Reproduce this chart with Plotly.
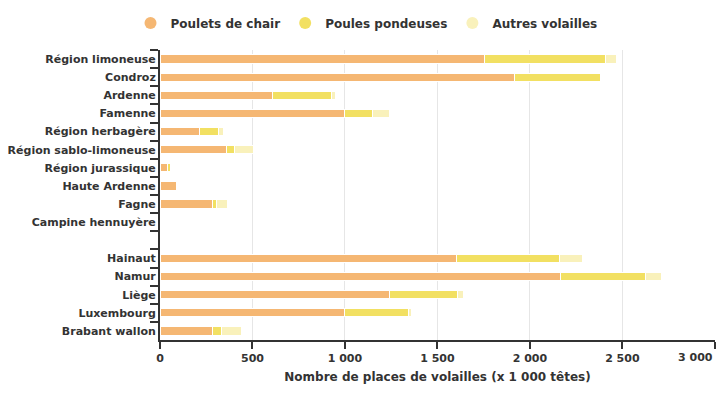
import plotly.graph_objects as go

# Regions, listed from top to bottom; the blank entry is the gap row
regions = [
    "Région limoneuse", "Condroz", "Ardenne", "Famenne", "Région herbagère",
    "Région sablo-limoneuse", "Région jurassique", "Haute Ardenne", "Fagne",
    "Campine hennuyère", " ", "Hainaut", "Namur", "Liège", "Luxembourg",
    "Brabant wallon",
]

# Places of poultry (x 1 000 heads)
poulets_chair = [1757, 1919, 607, 1000, 216, 357, 38, 87, 285, 0, None, 1605, 2168, 1243, 995, 286]
poules_pondeuses = [654, 465, 323, 151, 98, 48, 21, 5, 18, 0, None, 557, 459, 368, 346, 44]
autres_volailles = [59, 0, 20, 92, 30, 103, 0, 2, 63, 0, None, 123, 85, 31, 19, 112]

x_ticks = [0, 500, 1000, 1500, 2000, 2500, 3000]
x_ticktext = ["0", "500", "1 000", "1 500", "2 000", "2 500", ""]

series = [
    ("Poulets de chair", poulets_chair, "#F5B773"),
    ("Poules pondeuses", poules_pondeuses, "#F2E062"),
    ("Autres volailles", autres_volailles, "#F9F1BB"),
]

fig = go.Figure()

for name, values, color in series:
    fig.add_trace(go.Bar(
        y=regions,
        x=values,
        orientation="h",
        name=name,
        marker=dict(color=color, line=dict(color="white", width=1)),
        showlegend=False,
    ))

# round legend markers
for name, values, color in series:
    fig.add_trace(go.Scatter(
        x=[None], y=[None],
        mode="markers",
        name=name,
        marker=dict(color=color, size=13, symbol="circle"),
    ))

# the page body adds an 8px offset, so the figure is a bit smaller than the window
fig.update_layout(
    width=717,
    height=392,
    barmode="stack",
    bargap=0.55,
    separators=", ",
    plot_bgcolor="white",
    paper_bgcolor="white",
    font=dict(family="DejaVu Sans", color="#333333"),
    margin=dict(l=152, r=10, t=42, b=60, autoexpand=False),
    legend=dict(
        orientation="h",
        traceorder="normal",
        xref="container", yref="container",
        x=0.5, xanchor="center",
        y=0.962, yanchor="middle",
        font=dict(size=12, family="DejaVu Sans", weight="bold", color="#333333"),
        itemsizing="constant",
    ),
)

# last tick label is kept inside the chart, right-aligned on its tick
fig.add_annotation(
    x=x_ticks[-1], y=0, xref="x", yref="paper",
    text="3 000", showarrow=False,
    xanchor="right", yanchor="top", yshift=-9,
    font=dict(size=11, weight="bold", color="#333333"),
)

fig.update_xaxes(
    range=[0, 3001],
    tickvals=x_ticks,
    ticktext=x_ticktext,
    showgrid=True,
    gridcolor="#e6e6e6",
    gridwidth=1,
    zeroline=False,
    showline=True,
    linecolor="#333333",
    linewidth=2,
    ticks="outside",
    ticklen=7,
    tickwidth=2,
    tickcolor="#333333",
    tickfont=dict(size=11, weight="bold"),
    automargin=False,
    title=dict(text="Nombre de places de volailles (x 1 000 têtes)",
               font=dict(size=12, weight="bold"), standoff=8),
)

fig.update_yaxes(
    type="category",
    categoryorder="array",
    categoryarray=regions,
    autorange="reversed",
    showline=True,
    linecolor="#333333",
    linewidth=2,
    ticks="outside",
    tickson="boundaries",
    ticklen=8,
    tickwidth=2,
    tickcolor="#333333",
    showgrid=False,
    automargin=False,
    tickfont=dict(size=11, weight="bold"),
)

fig.write_html("out.html")
